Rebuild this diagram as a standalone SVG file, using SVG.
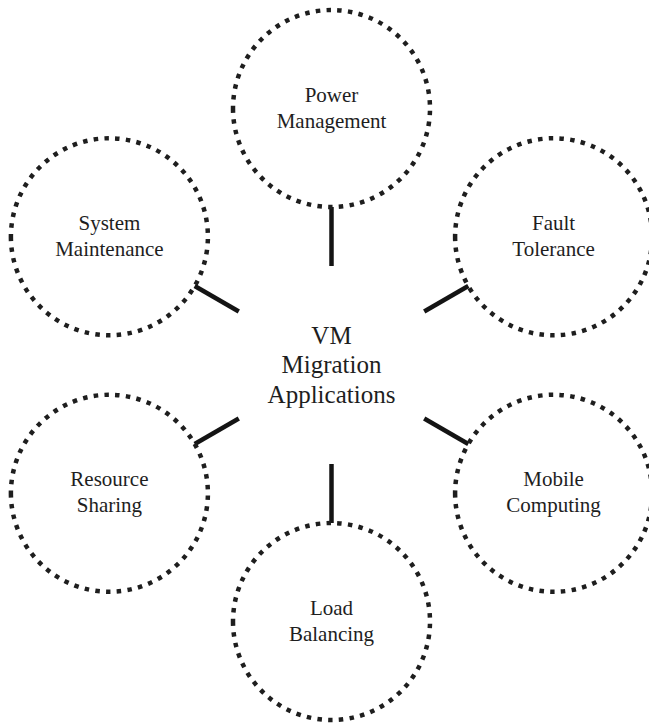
<svg xmlns="http://www.w3.org/2000/svg" width="649" height="724" viewBox="0 0 649 724">
  <style>
    .ring { fill: none; stroke: #1e1e1e; stroke-width: 4.5; stroke-dasharray: 4.5 6.29; }
    .link { stroke: #141414; stroke-width: 4.5; stroke-linecap: butt; }
    .label { font-family: "Liberation Serif", "Times New Roman", serif; font-size: 21px; fill: #1e1e1e; text-anchor: middle; }
    .hub { font-family: "Liberation Serif", "Times New Roman", serif; font-size: 25px; fill: #1e1e1e; text-anchor: middle; }
  </style>

  <rect width="649" height="724" fill="#ffffff"/>

  <!-- spokes from the hub to each application ring -->
  <g id="connectors">
    <line class="link" x1="331.5" y1="207" x2="331.5" y2="266"/>
    <line class="link" x1="468.3" y1="286" x2="424.2" y2="311.5"/>
    <line class="link" x1="468.3" y1="444" x2="424.2" y2="418.5"/>
    <line class="link" x1="331.5" y1="523" x2="331.5" y2="464"/>
    <line class="link" x1="194.7" y1="444" x2="238.8" y2="418.5"/>
    <line class="link" x1="194.7" y1="286" x2="238.8" y2="311.5"/>
  </g>

  <!-- central hub label -->
  <g id="hub">
    <text class="hub" x="331.5" y="343.5">VM</text>
    <text class="hub" x="331.5" y="373">Migration</text>
    <text class="hub" x="331.5" y="402.5">Applications</text>
  </g>

  <!-- rings are drawn from their leftmost point -->
  <g id="power-management">
    <path class="ring" d="M233,108.5 a98.5,98.5 0 1,0 197,0 a98.5,98.5 0 1,0 -197,0"/>
    <text class="label" x="331.5" y="101.5">Power</text>
    <text class="label" x="331.5" y="127.5">Management</text>
  </g>

  <g id="fault-tolerance">
    <path class="ring" d="M455.1,236.75 a98.5,98.5 0 1,0 197,0 a98.5,98.5 0 1,0 -197,0"/>
    <text class="label" x="553.6" y="229.75">Fault</text>
    <text class="label" x="553.6" y="255.75">Tolerance</text>
  </g>

  <g id="mobile-computing">
    <path class="ring" d="M455.1,493.25 a98.5,98.5 0 1,0 197,0 a98.5,98.5 0 1,0 -197,0"/>
    <text class="label" x="553.6" y="486.25">Mobile</text>
    <text class="label" x="553.6" y="512.25">Computing</text>
  </g>

  <g id="load-balancing">
    <path class="ring" d="M233,621.5 a98.5,98.5 0 1,0 197,0 a98.5,98.5 0 1,0 -197,0"/>
    <text class="label" x="331.5" y="614.5">Load</text>
    <text class="label" x="331.5" y="640.5">Balancing</text>
  </g>

  <g id="resource-sharing">
    <path class="ring" d="M10.9,493.25 a98.5,98.5 0 1,0 197,0 a98.5,98.5 0 1,0 -197,0"/>
    <text class="label" x="109.4" y="486.25">Resource</text>
    <text class="label" x="109.4" y="512.25">Sharing</text>
  </g>

  <g id="system-maintenance">
    <path class="ring" d="M10.9,236.75 a98.5,98.5 0 1,0 197,0 a98.5,98.5 0 1,0 -197,0"/>
    <text class="label" x="109.4" y="229.75">System</text>
    <text class="label" x="109.4" y="255.75">Maintenance</text>
  </g>
</svg>
